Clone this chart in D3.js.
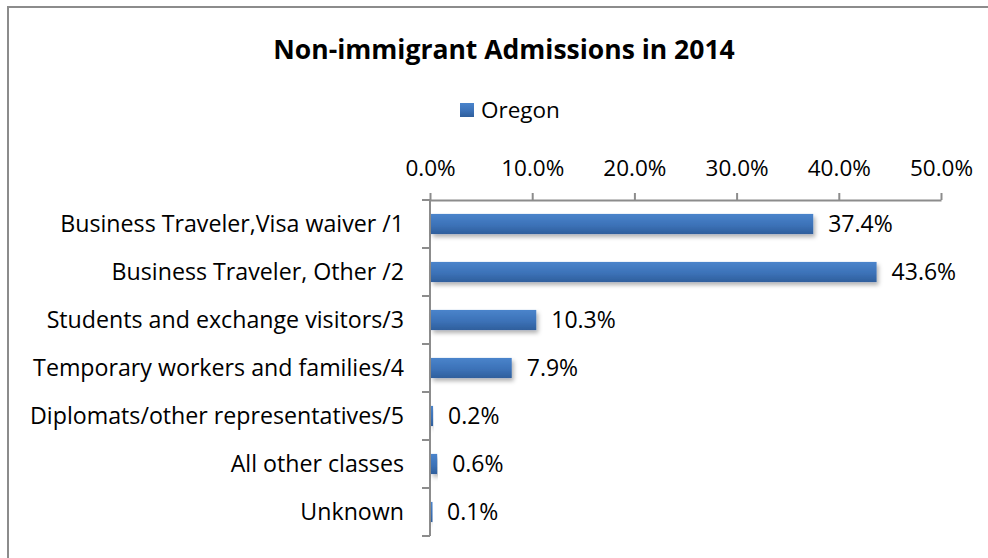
<!DOCTYPE html>
<html>
<head>
<meta charset="utf-8">
<script src="https://cdn.jsdelivr.net/npm/d3@7"></script>
<style>
  body { margin: 0; background: #fff; }
  svg { display: block; font-family: "Open Sans", Lato, sans-serif; }
</style>
</head>
<body>
<div id="chart"></div>
<script>
const categories = [
    "Business Traveler,Visa waiver /1",
    "Business Traveler, Other /2",
    "Students and exchange visitors/3",
    "Temporary workers and families/4",
    "Diplomats/other representatives/5",
    "All other classes",
    "Unknown"
];
const values = [37.4, 43.6, 10.3, 7.9, 0.2, 0.6, 0.1];
const tickValues = [0, 10, 20, 30, 40, 50];
const seriesName = "Oregon";
const title = "Non-immigrant Admissions in 2014";

const width = 988, height = 558;
const margin = ({ top: 200, left: 430, right: 47, bottom: 22 });
const fontFamily = "'Open Sans', Lato, sans-serif";

const svg = d3.select("#chart").append("svg")
    .attr("width", width)
    .attr("height", height);

// gradient + shadow for the bars
const defs = svg.append("defs");
const grad = defs.append("linearGradient")
    .attr("id", "barGrad")
    .attr("x1", 0).attr("y1", 0).attr("x2", 0).attr("y2", 1);
grad.append("stop").attr("offset", "0%").attr("stop-color", "#4a84cb");
grad.append("stop").attr("offset", "55%").attr("stop-color", "#3c72b8");
grad.append("stop").attr("offset", "100%").attr("stop-color", "#2f5f9c");

const shadow = defs.append("filter").attr("id", "shadow")
    .attr("x", "-5%").attr("y", "-20%").attr("width", "115%").attr("height", "160%");
shadow.append("feDropShadow")
    .attr("dx", 2).attr("dy", 3).attr("stdDeviation", 2)
    .attr("flood-color", "#000").attr("flood-opacity", 0.3);

// chart frame (only top and left edges are visible in the picture)
svg.append("path")
    .attr("d", `M8,${height} L8,7 L${width},7`)
    .attr("fill", "none")
    .attr("stroke", "#8c8c8c")
    .attr("stroke-width", 2);

const xScale = d3.scaleLinear()
    .domain([0, 50])
    .range([margin.left, width - margin.right]);

const yScale = d3.scaleBand()
    .domain(categories)
    .range([margin.top, height - margin.bottom])
    .paddingInner(0.58)
    .paddingOuter(0.29);

// title
svg.append("text")
    .attr("x", 504)
    .attr("y", 59)
    .attr("text-anchor", "middle")
    .style("font-size", "26.5px")
    .style("font-weight", "bold")
    .attr("fill", "#000")
    .text(title);

// legend
svg.append("rect")
    .attr("x", 460).attr("y", 103)
    .attr("width", 14).attr("height", 14)
    .attr("fill", "url(#barGrad)");
svg.append("text")
    .attr("x", 481).attr("y", 118)
    .style("font-size", "22.5px")
    .attr("fill", "#000")
    .text(seriesName);

// x axis on top
const xAxis = svg.append("g")
    .attr("transform", `translate(0,${margin.top})`)
    .call(d3.axisTop(xScale)
        .tickValues(tickValues)
        .tickFormat(d => d.toFixed(1) + "%")
        .tickSize(7)
        .tickSizeOuter(0)
        .tickPadding(17));
xAxis.select(".domain").attr("stroke", "#8c8c8c").attr("stroke-width", 2);
xAxis.selectAll(".tick line").attr("stroke", "#8c8c8c").attr("stroke-width", 2);
xAxis.selectAll(".tick text")
    .style("font-size", "22.5px")
    .style("font-family", fontFamily)
    .attr("fill", "#000");

// y axis: category boundary ticks
const yTop = margin.top, yBottom = height - margin.bottom;
svg.append("line")
    .attr("x1", margin.left).attr("x2", margin.left)
    .attr("y1", yTop).attr("y2", yBottom)
    .attr("stroke", "#8c8c8c").attr("stroke-width", 2);
svg.append("g")
    .selectAll("line")
    .data(d3.range(categories.length + 1))
    .join("line")
    .attr("x1", margin.left - 8).attr("x2", margin.left)
    .attr("y1", i => yTop + i * (yBottom - yTop) / categories.length)
    .attr("y2", i => yTop + i * (yBottom - yTop) / categories.length)
    .attr("stroke", "#8c8c8c").attr("stroke-width", 2);

// category labels
svg.append("g")
    .selectAll("text")
    .data(categories)
    .join("text")
    .attr("x", margin.left - 26)
    .attr("y", d => yScale(d) + yScale.bandwidth() / 2)
    .attr("dy", "0.36em")
    .attr("text-anchor", "end")
    .style("font-size", "23.2px")
    .attr("fill", "#000")
    .text(d => d);

// bars
svg.append("g")
    .selectAll("rect")
    .data(values)
    .join("rect")
    .attr("x", xScale(0) + 1)
    .attr("y", (d, i) => yScale(categories[i]))
    .attr("width", d => Math.max(1.5, xScale(d) - xScale(0)))
    .attr("height", yScale.bandwidth())
    .attr("fill", "url(#barGrad)")
    .attr("filter", "url(#shadow)");

// value labels
svg.append("g")
    .selectAll("text")
    .data(values)
    .join("text")
    .attr("x", d => xScale(d) + 16)
    .attr("y", (d, i) => yScale(categories[i]) + yScale.bandwidth() / 2)
    .attr("dy", "0.36em")
    .style("font-size", "23px")
    .attr("fill", "#000")
    .text(d => d.toFixed(1) + "%");
</script>
</body>
</html>
